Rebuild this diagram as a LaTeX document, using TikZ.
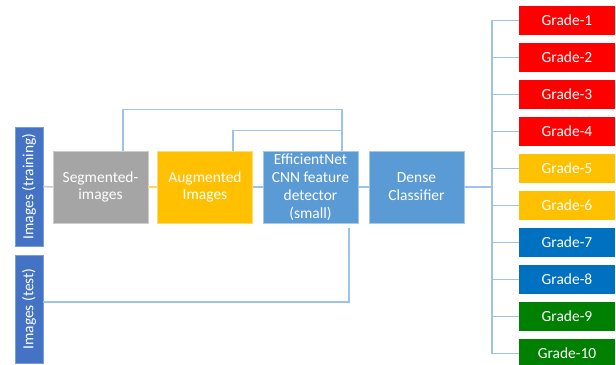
\documentclass[tikz,border=0pt]{standalone}
\usepackage{fontspec}
\setmainfont{Carlito}
\usepackage{tikz}

\definecolor{azulosc}{HTML}{4472C4}
\definecolor{azulcla}{HTML}{5B9BD5}
\definecolor{gris}{HTML}{A5A5A5}
\definecolor{oro}{HTML}{FFC000}
\definecolor{rojo}{HTML}{FF0000}
\definecolor{azul}{HTML}{0070C0}
\definecolor{verde}{HTML}{008000}
\definecolor{linea}{HTML}{9DC3E6}

\tikzset{
  caja/.style={draw=#1!55!white, fill=#1, text=white, align=center,
    minimum width=1.9cm, minimum height=1.44cm, inner sep=1pt,
    font=\fontsize{8.8}{10.2}\selectfont},
  lateral/.style={draw=azulosc!70!white, fill=azulosc, text=white, rotate=90,
    minimum height=0.56cm, inner sep=1pt, font=\fontsize{8.8}{10.2}\selectfont},
  grado/.style={fill=#1, text=white, minimum width=1.92cm, minimum height=0.57cm,
    inner sep=1pt, font=\fontsize{8.8}{10.2}\selectfont},
  conector/.style={draw=#1, line width=0.9pt}
}

\begin{document}
\begin{tikzpicture}[x=0.02cm, y=-0.02cm]

\useasboundingbox (0,0) rectangle (616,365);

% Entradas
\node[lateral, minimum width=2.38cm] (train) at (29,186.5) {Images (training)};
\node[lateral, minimum width=2.16cm] (test) at (29,309) {Images (test)};

% Etapas
\node[caja=gris] (seg) at (100.5,187) {Segmented-\\images};
\node[caja=oro] (aug) at (205,187) {Augmented\\Images};
\node[caja=azulcla] (eff) at (310.5,187) {EfficientNet\\CNN feature\\detector\\(small)};
\node[caja=azulcla] (dense) at (416.5,187) {Dense\\Classifier};

% Clases
\foreach \i/\col in {1/rojo,2/rojo,3/rojo,4/rojo,5/oro,6/oro,7/azul,8/azul,9/verde,10/verde}
  \node[grado=\col] (g\i) at (567,{20.5+37*(\i-1)}) {Grade-\i};

\coordinate (tronco) at (492,187);

% Conexiones
\draw[conector=gris!60!white] (train.south) -- (seg.west);
\draw[conector=oro!60!white] (seg.east) -- (aug.west);
\draw[conector=linea] (aug.east) -- (eff.west);
\draw[conector=linea] (eff.east) -- (dense.west);
\draw[conector=linea] ([xshift=0.45cm]seg.north) -- ++(0,-41) -| ([xshift=0.63cm]eff.north);
\draw[conector=linea] ([xshift=0.56cm]aug.north) -- ++(0,-20) -| ([xshift=0.63cm]eff.north);
\draw[conector=linea] ([yshift=0.14cm]test.south) -| ([xshift=0.77cm,yshift=-0.1cm]eff.south);
\draw[conector=linea] (dense.east) -- (tronco);
\foreach \i in {1,...,10}
  \draw[conector=linea] (tronco) |- (g\i.west);

\end{tikzpicture}
\end{document}
